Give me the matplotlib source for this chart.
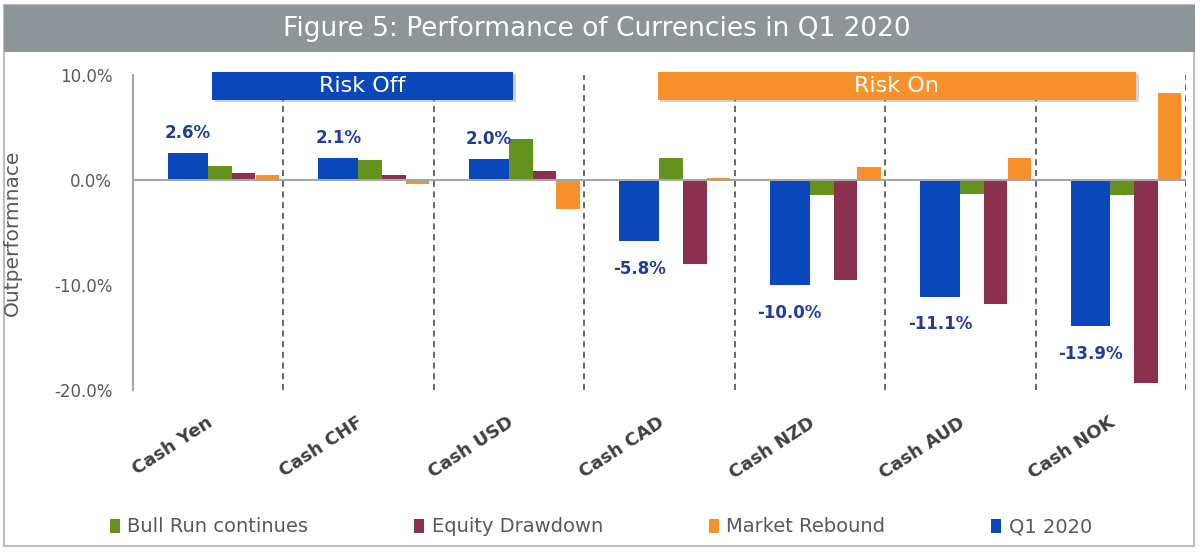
import numpy as np
import matplotlib
matplotlib.use("Agg")
import matplotlib.pyplot as plt
from matplotlib.patches import Rectangle
import matplotlib.patheffects as pe
import matplotlib.transforms as mtransforms

plt.rcParams['font.family'] = ['DejaVu Sans']

categories = ["Cash Yen", "Cash CHF", "Cash USD", "Cash CAD", "Cash NZD", "Cash AUD", "Cash NOK"]
q1_2020 = [2.6, 2.1, 2.0, -5.8, -10.0, -11.1, -13.9]
bull_run = [1.3, 1.9, 3.9, 2.1, -1.4, -1.3, -1.4]
equity_drawdown = [0.7, 0.5, 0.9, -8.0, -9.5, -11.8, -19.3]
market_rebound = [0.5, -0.4, -2.8, 0.2, 1.2, 2.1, 8.3]
q1_labels = ["2.6%", "2.1%", "2.0%", "-5.8%", "-10.0%", "-11.1%", "-13.9%"]
yticks = [-20, -10, 0, 10]
ytick_labels = ["-20.0%", "-10.0%", "0.0%", "10.0%"]

BLUE = '#0A47BA'
GREEN = '#64921F'
MAROON = '#8C3050'
ORANGE = '#F7912B'
LBLUE = '#1E3E9A'
GRAYTXT = '#595959'

W, H = 1200, 553
fig = plt.figure(figsize=(12, 5.53), dpi=100, facecolor='white')

# outer border
fig.patches.append(Rectangle((4 / W, 1 - 546 / H), 1190 / W, 541 / H, transform=fig.transFigure,
                             facecolor='none', edgecolor='#BFBFBF', lw=1.5, zorder=-1))
# title bar
fig.patches.append(Rectangle((4 / W, 1 - 52 / H), 1191 / W, 47 / H, transform=fig.transFigure,
                             facecolor='#8D9599', edgecolor='none', zorder=-1))
fig.text(597 / W, 1 - 29 / H, "Figure 5: Performance of Currencies in Q1 2020", color='white',
         fontsize=19, ha='center', va='center')

ax = fig.add_axes([133 / W, 1 - 390 / H, (1186 - 133) / W, (390 - 75) / H])
ax.set_facecolor('none')
x = np.arange(len(categories))

ax.bar(x - 0.135, q1_2020, 0.265, color=BLUE, zorder=3, label='Q1 2020')
ax.bar(x + 0.078, bull_run, 0.16, color=GREEN, zorder=3, label='Bull Run continues')
ax.bar(x + 0.235, equity_drawdown, 0.155, color=MAROON, zorder=3, label='Equity Drawdown')
ax.bar(x + 0.392, market_rebound, 0.155, color=ORANGE, zorder=3, label='Market Rebound')

for xi, v, lab in zip(x, q1_2020, q1_labels):
    off = 14.5 if v >= 0 else -20
    ax.annotate(lab, (xi - 0.135, v), xytext=(0, off), textcoords='offset points',
                ha='center', va='center', color=LBLUE, fontsize=12, fontweight='bold', zorder=5)

for b in np.arange(0.5, len(categories) + 0.5, 1.0):
    ax.axvline(b, color='#404040', lw=1.1, linestyle=(0, (4, 3)), zorder=2)

ax.axhline(0, color='#A6A6A6', lw=1.5, zorder=4)

ax.set_xlim(-0.5, 6.5)
ax.set_ylim(-20, 10)
ax.set_yticks(yticks)
ax.set_yticklabels(ytick_labels, color=GRAYTXT, fontsize=12)
ax.tick_params(axis='y', length=0, pad=15)
ax.set_xticks(x)
ax.set_xticklabels(categories, rotation=33, ha='right', va='top', rotation_mode='anchor',
                   fontsize=13, fontweight='bold', color='#404040')
ax.tick_params(axis='x', length=0, pad=17)
offset = mtransforms.ScaledTranslation(-2 / 100, 0, fig.dpi_scale_trans)
for lbl in ax.get_xticklabels():
    lbl.set_transform(lbl.get_transform() + offset)

for s in ['top', 'right', 'bottom']:
    ax.spines[s].set_visible(False)
ax.spines['left'].set_color('#A6A6A6')
ax.spines['left'].set_linewidth(1.5)

ax.set_ylabel("Outperformnace", color=GRAYTXT, fontsize=14.5)
ax.yaxis.set_label_coords((22 - 133) / (1186 - 133), 0.5)

# banners
shadow = [pe.withSimplePatchShadow(offset=(2, -2), shadow_rgbFace='#808080', alpha=0.35), pe.Normal()]
r1 = Rectangle((0.027, 7.66), 2.0, 2.67, facecolor=BLUE, edgecolor='none', zorder=6,
               clip_on=False, path_effects=shadow)
r2 = Rectangle((2.987, 7.66), 3.18, 2.67, facecolor=ORANGE, edgecolor='none', zorder=6,
               clip_on=False, path_effects=shadow)
ax.add_patch(r1)
ax.add_patch(r2)
ax.text(1.027, 9.0, "Risk Off", color='white', fontsize=16, ha='center', va='center', zorder=7, clip_on=False)
ax.text(4.577, 9.0, "Risk On", color='white', fontsize=16, ha='center', va='center', zorder=7, clip_on=False)

handles, labels = ax.get_legend_handles_labels()
order = [1, 2, 3, 0]
leg = fig.legend([handles[i] for i in order], [labels[i] for i in order],
                 loc='center left', bbox_to_anchor=(102 / W, 1 - 527 / H, 998 / W, 0.0),
                 mode='expand', ncol=4, frameon=False, fontsize=14,
                 handlelength=0.5, handleheight=0.7, handletextpad=0.4, borderaxespad=0)
for t in leg.get_texts():
    t.set_color(GRAYTXT)

fig.savefig("out.png", dpi=100)
